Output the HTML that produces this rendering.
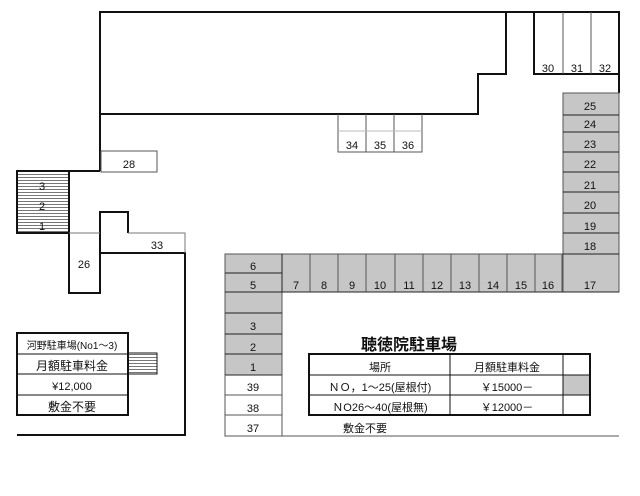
<!DOCTYPE html>
<html><head><meta charset="utf-8"><style>
html,body{margin:0;padding:0;background:#fff}
svg{display:block}
text{font-family:"Liberation Sans","Noto Sans CJK JP",sans-serif;font-size:11px;fill:#111;text-anchor:middle}
</style></head><body>
<svg width="640" height="496" viewBox="0 0 640 496" xmlns="http://www.w3.org/2000/svg">
<defs>
<pattern id="st" width="4" height="3" patternUnits="userSpaceOnUse"><rect width="4" height="3" fill="#fff"/><rect width="4" height="1" fill="#777"/></pattern>
</defs>
<g stroke="#111" stroke-width="2" fill="none">
<path d="M100,171 V12 H619 V93"/>
<path d="M506,12 V74 H478 V114 H100"/>
<path d="M534,12 V74 H619"/>
</g>
<g stroke="#555" stroke-width="1" fill="none">
<path d="M563,12 V74 M591,12 V74"/>
<path d="M338,114 V152 H422 V114 M366,114 V152 M394,114 V152"/>
<path d="M338,131 H422" stroke="#bbb"/>
<rect x="101" y="151" width="56" height="21"/>
</g>
<text x="548" y="72">30</text><text x="577" y="72">31</text><text x="605" y="72">32</text>
<text x="352" y="149">34</text><text x="380" y="149">35</text><text x="408" y="149">36</text>
<text x="129" y="168">28</text>
<rect x="563" y="93" width="56" height="199" fill="#c6c6c6" stroke="#555"/>
<rect x="225" y="254" width="338" height="38" fill="#c6c6c6" stroke="#555"/>
<rect x="225" y="292" width="57" height="83" fill="#c6c6c6" stroke="#555"/>
<g stroke="#222" stroke-width="1">
<path d="M563,115 H619 M563,132 H619 M563,152 H619 M563,172 H619 M563,192 H619 M563,213 H619 M563,233 H619 M563,254 H619"/>
<path d="M225,273 H282 M225,292 H282 M225,313 H282 M225,334 H282 M225,354 H282 M225,375 H282"/>
<path d="M282,292 H619 M282,254 V292"/>
<path d="M310,254 V292 M338,254 V292 M366,254 V292 M395,254 V292 M423,254 V292 M451,254 V292 M479,254 V292 M507,254 V292 M535,254 V292 M562,254 V292" stroke="#555"/>
</g>
<text x="590" y="110">25</text><text x="590" y="128">24</text><text x="590" y="148">23</text><text x="590" y="168">22</text><text x="590" y="189">21</text><text x="590" y="209">20</text><text x="590" y="230">19</text><text x="590" y="250">18</text><text x="590" y="289">17</text>
<text x="253" y="270">6</text><text x="253" y="289">5</text><text x="253" y="330">3</text><text x="253" y="351">2</text><text x="253" y="371">1</text>
<text x="296" y="289">7</text><text x="324" y="289">8</text><text x="352" y="289">9</text><text x="380" y="289">10</text><text x="409" y="289">11</text><text x="437" y="289">12</text><text x="465" y="289">13</text><text x="493" y="289">14</text><text x="521" y="289">15</text><text x="548" y="289">16</text>
<g stroke="#555" fill="none">
<path d="M225,375 V436 H619 M282,375 V436 M225,395 H282 M225,415 H282"/>
</g>
<text x="253" y="391">39</text><text x="253" y="412">38</text><text x="253" y="432">37</text>
<text x="409" y="350" style="font-size:16px;font-weight:bold">聴徳院駐車場</text>
<rect x="563" y="375" width="27" height="20" fill="#c6c6c6"/>
<g stroke="#111" fill="none">
<rect x="309" y="354" width="281" height="61" stroke-width="2"/>
<path d="M309,375 H590 M309,395 H590 M450,354 V415 M563,354 V415"/>
</g>
<text x="380" y="371">場所</text><text x="507" y="371">月額駐車料金</text>
<text x="380" y="391">ＮＯ，1～25(屋根付)</text><text x="507" y="391">￥15000－</text>
<text x="380" y="411">ＮO26～40(屋根無)</text><text x="507" y="411">￥12000－</text>
<text x="365" y="432">敷金不要</text>
<rect x="17" y="171" width="52" height="62" fill="url(#st)" stroke="#111" stroke-width="2"/>
<text x="42" y="190">3</text><text x="42" y="210">2</text><text x="42" y="230">1</text>
<path d="M69,171 H100" stroke="#111" stroke-width="2"/>
<g stroke="#111" stroke-width="2" fill="none">
<path d="M69,233 V293 H100 V212 H128 V233"/>
<path d="M100,253 H185 V435 H17"/>
</g>
<g stroke="#777" fill="none"><path d="M128,233 H185 V253 M69,233 H100"/></g>
<text x="84" y="268">26</text><text x="157" y="249">33</text>
<rect x="128" y="353" width="29" height="21" fill="url(#st)" stroke="#111"/>
<g stroke="#111" fill="#fff">
<rect x="17" y="333" width="111" height="82" stroke-width="2"/>
<path d="M17,354 H128 M17,374 H128 M17,395 H128" fill="none"/>
</g>
<text x="72" y="349" style="font-size:10px">河野駐車場(No1～3)</text>
<text x="72" y="370" style="font-size:12px">月額駐車料金</text>
<text x="72" y="390">¥12,000</text>
<text x="72" y="411" style="font-size:12px">敷金不要</text>
</svg>
</body></html>
